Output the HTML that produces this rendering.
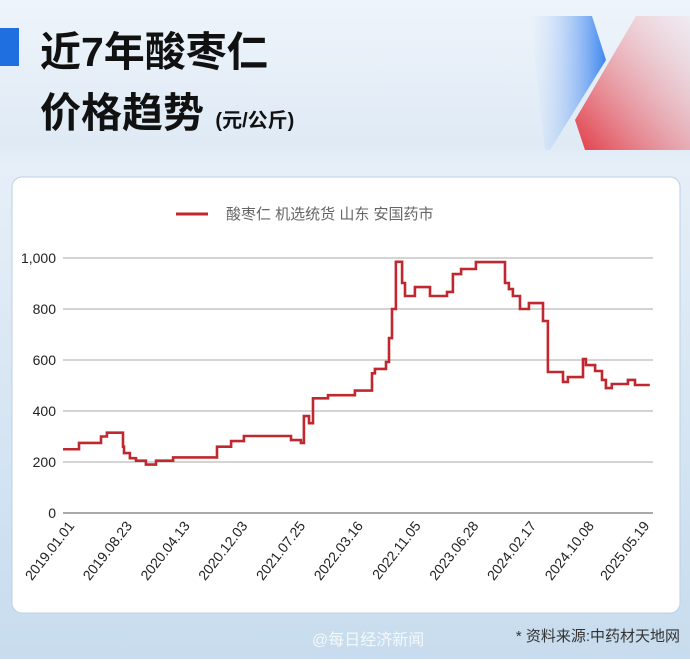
<!DOCTYPE html>
<html><head><meta charset="utf-8">
<style>
html,body{margin:0;padding:0;}
body{width:690px;height:659px;overflow:hidden;font-family:"Liberation Sans","Noto Sans CJK SC",sans-serif;}
</style></head>
<body>
<svg width="690" height="659" viewBox="0 0 690 659" xmlns="http://www.w3.org/2000/svg">
<defs>
<linearGradient id="bg" x1="0" y1="0" x2="0" y2="1">
<stop offset="0" stop-color="#eef4fb"/><stop offset="0.22" stop-color="#dfeaf5"/><stop offset="0.25" stop-color="#e6eff8"/><stop offset="1" stop-color="#c7dcee"/>
</linearGradient>
<linearGradient id="blue" x1="0" y1="0" x2="1" y2="0">
<stop offset="0" stop-color="#e4eefa" stop-opacity="0.2"/><stop offset="1" stop-color="#3f86f0"/>
</linearGradient>
<linearGradient id="red" x1="0" y1="1" x2="1" y2="0">
<stop offset="0" stop-color="#e23a45"/><stop offset="1" stop-color="#f5d8dc" stop-opacity="0.3"/>
</linearGradient>
</defs>
<rect x="0" y="0" width="690" height="659" fill="url(#bg)"/>
<polygon points="530,16 592,16 606,60 550,150 545,150" fill="url(#blue)"/>
<polygon points="636,16 690,16 690,150 585,150 575,120" fill="url(#red)"/>
<rect x="0" y="28" width="19" height="38" fill="#1f6fe0"/>
<text x="40" y="66" font-size="41" font-weight="bold" fill="#111">近7年酸枣仁</text>
<text x="40" y="127" font-size="41" font-weight="bold" fill="#111">价格趋势 <tspan font-size="20">(元/公斤)</tspan></text>
<rect x="12" y="177" width="668" height="436" rx="10" fill="#fff" stroke="#bcd0e4"/>
<line x1="176" y1="214" x2="208" y2="214" stroke="#c0282f" stroke-width="3"/>
<text x="226" y="219" font-size="15" fill="#666">酸枣仁 机选统货 山东 安国药市</text>
<g id="grid"></g>
<g id="xlabels"></g>
<path id="series" fill="none" stroke="#c0282f" stroke-width="2.6" stroke-linejoin="miter"/>
<text x="680" y="641" font-size="15" fill="#333" text-anchor="end">* 资料来源:中药材天地网</text>
<text x="312" y="645" font-size="16" fill="#f4f8fc">@每日经济新闻</text>
</svg>
<script>
const yTicks = [0, 200, 400, 600, 800, 1000];
const yTickLabels = ["0", "200", "400", "600", "800", "1,000"];
const xTickDays = [0, 234, 468, 702, 936, 1170, 1404, 1638, 1872, 2106, 2330];
const xTickLabels = ["2019.01.01","2019.08.23","2020.04.13","2020.12.03","2021.07.25","2022.03.16","2022.11.05","2023.06.28","2024.02.17","2024.10.08","2025.05.19"];
const stepDays = [0,65,154,178,243,247,271,296,336,377,446,624,681,733,924,964,976,997,1013,1074,1183,1252,1264,1309,1321,1333,1349,1374,1386,1426,1487,1556,1580,1613,1673,1791,1807,1823,1852,1888,1945,1965,2026,2046,2107,2119,2156,2184,2200,2224,2289,2318];
const stepPrices = [250,275,300,315,260,235,215,205,190,205,218,260,282,302,286,275,380,352,450,462,480,548,565,592,686,800,985,902,851,886,851,867,937,957,984,902,878,851,800,823,753,553,514,533,604,580,557,522,490,506,522,502];
const endDay = 2378;

const NS = "http://www.w3.org/2000/svg";
const X0 = 63, PXD = 575 / 2330;
const Y0 = 513, PXV = 255 / 1000;
function xs(d){ return X0 + d * PXD; }
function ys(v){ return Y0 - v * PXV; }

const grid = document.getElementById('grid');
yTicks.forEach((v, i) => {
  const l = document.createElementNS(NS, 'line');
  l.setAttribute('x1', 63); l.setAttribute('x2', 653);
  l.setAttribute('y1', ys(v)); l.setAttribute('y2', ys(v));
  l.setAttribute('stroke', v === 0 ? '#777' : '#bbb');
  l.setAttribute('stroke-width', v === 0 ? 1.3 : 1.2);
  
  
  grid.appendChild(l);
  const t = document.createElementNS(NS, 'text');
  t.setAttribute('x', 56); t.setAttribute('y', ys(v) + 5);
  t.setAttribute('text-anchor', 'end');
  t.setAttribute('font-size', '14');
  t.setAttribute('fill', '#222');
  t.textContent = yTickLabels[i];
  
  
  grid.appendChild(t);
});

const xl = document.getElementById('xlabels');
xTickDays.forEach((d, i) => {
  const x = xs(d) + 12, y = 526;
  const t = document.createElementNS(NS, 'text');
  t.setAttribute('x', x); t.setAttribute('y', y);
  t.setAttribute('text-anchor', 'end');
  t.setAttribute('font-size', '14');
  t.setAttribute('fill', '#222');
  t.setAttribute('transform', 'rotate(-52 ' + x + ' ' + y + ')');
  t.textContent = xTickLabels[i];
  
  
  xl.appendChild(t);
});

let d = 'M' + xs(stepDays[0]) + ' ' + ys(stepPrices[0]);
for (let i = 1; i < stepDays.length; i++) {
  d += ' H' + xs(stepDays[i]).toFixed(1) + ' V' + ys(stepPrices[i]).toFixed(1);
}
d += ' H' + xs(endDay).toFixed(1);
document.getElementById('series').setAttribute('d', d);
</script>
</body></html>
